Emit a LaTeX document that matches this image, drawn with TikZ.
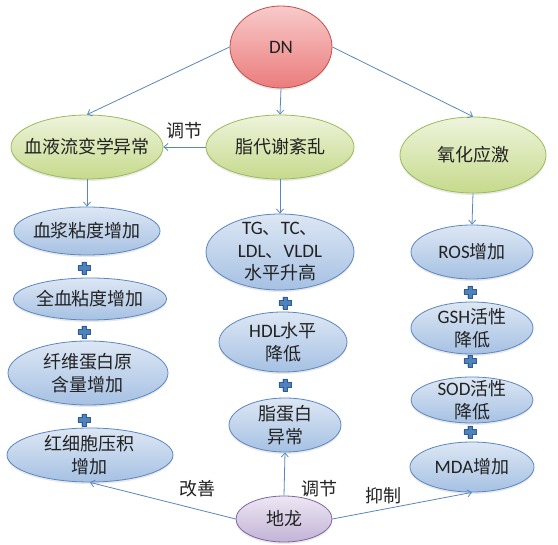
\documentclass[tikz,border=0pt]{standalone}
\usepackage{fontspec}
\newfontfamily\cjk{Noto Sans CJK SC}
\newfontfamily\lat{Carlito}
\usetikzlibrary{shapes.geometric,arrows.meta,shadows}
\definecolor{bluedraw}{HTML}{5B87C0}
\definecolor{bluetop}{HTML}{DDE7F4}
\definecolor{bluebot}{HTML}{A6C1E3}
\definecolor{greendraw}{HTML}{9BBB59}
\definecolor{greentop}{HTML}{EEF4DC}
\definecolor{greenbot}{HTML}{C6DA8C}
\definecolor{reddraw}{HTML}{C0504D}
\definecolor{redtop}{HTML}{F8CACA}
\definecolor{redbot}{HTML}{EB7C7C}
\definecolor{purpledraw}{HTML}{8064A2}
\definecolor{purpletop}{HTML}{EDE7F3}
\definecolor{purplebot}{HTML}{C2B3D6}
\definecolor{arrowc}{HTML}{5B87C0}
\definecolor{plusfill}{HTML}{4F81BD}
\definecolor{plusdraw}{HTML}{2F5C91}
\definecolor{textc}{HTML}{222222}
\newcommand\La[1]{{\lat\fontsize{19}{22}\selectfont #1}}
\begin{document}
\begin{tikzpicture}[x=1pt,y=-1pt,
  ell/.style={ellipse, inner sep=0pt, line width=0.8pt,
    drop shadow={opacity=0.18, shadow xshift=0pt, shadow yshift=-2pt}},
  blueell/.style={ell, draw=bluedraw, top color=bluetop, bottom color=bluebot},
  greenell/.style={ell, draw=greendraw, top color=greentop, bottom color=greenbot},
  redell/.style={ell, draw=reddraw, top color=redtop, bottom color=redbot},
  purpleell/.style={ell, draw=purpledraw, top color=purpletop, bottom color=purplebot},
  txt/.style={font=\cjk\fontsize{18}{22.5}\selectfont, text=textc, align=center, inner sep=0pt},
  tx/.style={label={[txt]center:{#1}}},
  sz/.style 2 args={minimum width=#1pt, minimum height=#2pt},
  conn/.style={draw=arrowc, line width=0.8pt, -{Straight Barb[length=4pt,width=7pt]}},
  lbl/.style={txt},
  plus/.pic={\filldraw[fill=plusfill, draw=plusdraw, line width=0.4pt]
    (-2.3,-6.2) -- (2.3,-6.2) -- (2.3,-2.3) -- (6.2,-2.3) -- (6.2,2.3) -- (2.3,2.3) --
    (2.3,6.2) -- (-2.3,6.2) -- (-2.3,2.3) -- (-6.2,2.3) -- (-6.2,-2.3) -- (-2.3,-2.3) -- cycle;}
]
\useasboundingbox[fill=white] (0,0) rectangle (558,545);

% top
\node[redell, sz={102}{82}, tx={\La{DN}}] (dn) at (281,47) {};
% level 2
\node[greenell, sz={152}{64}, tx={血液流变学异常}] (xy) at (87,147) {};
\node[greenell, sz={148}{64}, tx={脂代谢紊乱}] (zd) at (280,147) {};
\node[greenell, sz={146}{76}, tx={氧化应激}] (yh) at (473,155) {};
% left column
\node[blueell, sz={146}{48}, tx={血浆粘度增加}] (b1) at (87,231) {};
\node[blueell, sz={153}{42}, tx={全血粘度增加}] (b2) at (90,299) {};
\node[blueell, sz={160}{64}, tx={纤维蛋白原\\含量增加}] (b3) at (88,373) {};
\node[blueell, sz={166}{54}, tx={红细胞压积\\增加}] (b4) at (90,455) {};
% middle column
\node[blueell, sz={148}{76}, tx={\La{TG}、\La{TC}、\\\La{LDL}、\La{VLDL}\\水平升高}] (m1) at (280,252) {};
\node[blueell, sz={128}{60}, tx={\La{HDL}水平\\降低}] (m2) at (283,342) {};
\node[blueell, sz={112}{54}, tx={脂蛋白\\异常}] (m3) at (285,425) {};
% right column
\node[blueell, sz={122}{54}, tx={\La{ROS}增加}] (r1) at (472,252) {};
\node[blueell, sz={122}{52}, tx={\La{GSH}活性\\降低}] (r2) at (472,328) {};
\node[blueell, sz={122}{46}, tx={\La{SOD}活性\\降低}] (r3) at (472,400) {};
\node[blueell, sz={124}{50}, tx={\La{MDA}增加}] (r4) at (472,467) {};
% bottom
\node[purpleell, sz={96}{46}, tx={地龙}] (dl) at (284,519) {};

% plus signs
\pic at (84,268) {plus};
\pic at (84,332) {plus};
\pic at (84,420) {plus};
\pic at (285,303) {plus};
\pic at (285,385) {plus};
\pic at (470,292) {plus};
\pic at (470,361) {plus};
\pic at (470,432) {plus};

% connectors
\draw[conn] (dn.west) -- (xy.north);
\draw[conn] (dn.south) -- (zd.north);
\draw[conn] (dn.east) -- (yh.north);
\draw[conn] (zd.west) -- node[lbl, above=8pt] (l1) {调节} (xy.east);
\draw[conn] (xy.south) -- (b1.north);
\draw[conn] (zd.south) -- (m1.north);
\draw[conn] (yh.south) -- (r1.north);
\draw[conn] (dl.west) -- (b4.south);
\draw[conn] (dl.north) -- (m3.south);
\draw[conn] (dl.east) -- (r4.south);
\node[lbl] (l2) at (197,489) {改善};
\node[lbl] (l3) at (319,489) {调节};
\node[lbl] (l4) at (383,496) {抑制};
\end{tikzpicture}
\end{document}
